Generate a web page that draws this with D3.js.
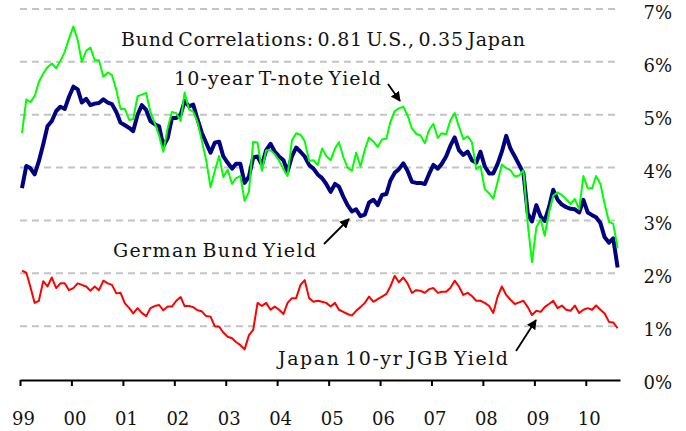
<!DOCTYPE html>
<html>
<head>
<meta charset="utf-8">
<script src="https://cdn.jsdelivr.net/npm/d3@7"></script>
<style>
	body { margin: 0; background: #fff; }
	svg text { font-family: 'DejaVu Serif', serif; fill: #111; }
</style>
</head>
<body>
<div class="chart"></div>
<script>
// month-end yields, Jan 1999 .. Aug 2010 (%)
const tnote = [
	4.65, 5.29, 5.24, 5.35, 5.62, 5.78, 5.90, 5.97, 5.88, 6.02, 6.19, 6.44,
	6.67, 6.41, 6.00, 6.21, 6.27, 6.03, 6.03, 5.72, 5.80, 5.75, 5.47, 5.11,
	5.11, 4.90, 4.92, 5.35, 5.38, 5.41, 5.05, 4.84, 4.60, 4.30, 4.75, 5.05,
	5.03, 4.88, 5.42, 5.10, 5.06, 4.86, 4.51, 4.14, 3.63, 3.93, 4.22, 3.82,
	3.96, 3.69, 3.80, 3.84, 3.37, 3.54, 4.49, 4.47, 3.94, 4.33, 4.33, 4.25,
	4.13, 3.97, 3.84, 4.51, 4.65, 4.62, 4.50, 4.13, 4.14, 4.05, 4.36, 4.22,
	4.14, 4.36, 4.48, 4.20, 4.00, 3.94, 4.28, 4.02, 4.34, 4.57, 4.49, 4.39,
	4.53, 4.55, 4.86, 5.07, 5.12, 5.15, 4.99, 4.74, 4.64, 4.61, 4.46, 4.71,
	4.83, 4.56, 4.65, 4.63, 4.89, 5.03, 4.78, 4.54, 4.59, 4.48, 3.97, 4.03,
	3.59, 3.51, 3.41, 3.73, 4.06, 3.99, 3.95, 3.83, 3.85, 3.95, 2.93, 2.21,
	2.87, 3.02, 2.71, 3.16, 3.47, 3.53, 3.48, 3.40, 3.31, 3.41, 3.21, 3.84,
	3.61, 3.61, 3.84, 3.69, 3.31, 2.97, 2.94, 2.47
];
const bund = [
	3.61, 4.03, 3.99, 3.87, 4.12, 4.44, 4.78, 4.88, 5.07, 5.15, 5.11, 5.34,
	5.53, 5.48, 5.23, 5.30, 5.18, 5.21, 5.22, 5.29, 5.23, 5.20, 5.05, 4.85,
	4.80, 4.75, 4.69, 5.00, 5.18, 5.09, 4.88, 4.82, 4.78, 4.40, 4.56, 4.94,
	4.94, 5.00, 5.26, 5.16, 5.19, 4.91, 4.66, 4.47, 4.28, 4.47, 4.49, 4.21,
	4.09, 3.98, 4.07, 4.07, 3.71, 3.83, 4.19, 4.21, 4.05, 4.33, 4.45, 4.30,
	4.21, 4.14, 3.92, 4.21, 4.38, 4.30, 4.21, 4.05, 3.98, 3.87, 3.80, 3.69,
	3.54, 3.69, 3.64, 3.45, 3.29, 3.17, 3.21, 3.08, 3.11, 3.34, 3.39, 3.29,
	3.48, 3.50, 3.75, 3.90, 3.97, 4.08, 3.94, 3.73, 3.71, 3.71, 3.69, 3.88,
	4.05, 3.98, 4.07, 4.21, 4.41, 4.57, 4.33, 4.24, 4.30, 4.14, 4.09, 4.30,
	4.02, 3.89, 3.89, 4.07, 4.30, 4.60, 4.36, 4.21, 4.05, 3.90, 3.13, 2.98,
	3.29, 3.07, 2.99, 3.25, 3.58, 3.39, 3.30, 3.25, 3.22, 3.21, 3.15, 3.39,
	3.15, 3.10, 3.06, 2.95, 2.68, 2.58, 2.66, 2.11
];
const jgb = [
	2.05, 2.01, 1.75, 1.44, 1.48, 1.85, 1.75, 1.92, 1.72, 1.81, 1.81, 1.68,
	1.72, 1.81, 1.78, 1.75, 1.67, 1.75, 1.68, 1.86, 1.81, 1.78, 1.62, 1.63,
	1.43, 1.34, 1.24, 1.34, 1.25, 1.19, 1.34, 1.38, 1.40, 1.30, 1.37, 1.37,
	1.48, 1.55, 1.38, 1.38, 1.36, 1.30, 1.28, 1.19, 1.18, 1.00, 0.99, 0.88,
	0.80, 0.77, 0.70, 0.64, 0.56, 0.83, 0.93, 1.44, 1.38, 1.44, 1.31, 1.37,
	1.31, 1.23, 1.44, 1.53, 1.53, 1.78, 1.87, 1.53, 1.46, 1.48, 1.46, 1.44,
	1.37, 1.44, 1.31, 1.27, 1.23, 1.20, 1.29, 1.36, 1.44, 1.56, 1.46, 1.51,
	1.56, 1.61, 1.75, 1.95, 1.83, 1.92, 1.81, 1.63, 1.68, 1.67, 1.63, 1.70,
	1.72, 1.63, 1.65, 1.65, 1.72, 1.86, 1.75, 1.59, 1.63, 1.57, 1.48, 1.48,
	1.44, 1.38, 1.25, 1.56, 1.75, 1.59, 1.50, 1.42, 1.45, 1.48, 1.36, 1.21,
	1.29, 1.27, 1.36, 1.42, 1.48, 1.34, 1.39, 1.31, 1.29, 1.39, 1.25, 1.31,
	1.34, 1.31, 1.39, 1.31, 1.24, 1.08, 1.07, 0.96
];
const yearLabels = ['99', '00', '01', '02', '03', '04', '05', '06', '07', '08', '09', '10'];
const yTicks = [0, 1, 2, 3, 4, 5, 6, 7];

const width = 686;
const height = 431;

const months = tnote.map((d, i) => new Date(1999, i, 15));

const x = d3.scaleTime()
	.domain([new Date(1999, 0, 1), new Date(2010, 8, 1)])
	.range([20, 620]);
const y = d3.scaleLinear().domain([0, 7]).range([379, 9]);

const svg = d3.select('.chart').append('svg').attr('width', width).attr('height', height);

// dashed grid
svg.append('g')
	.selectAll('line')
	.data(yTicks.filter(d => d > 0))
	.enter()
	.append('line')
	.attr('x1', 20)
	.attr('x2', 616)
	.attr('y1', d => y(d))
	.attr('y2', d => y(d))
	.attr('stroke', '#c3c3c3')
	.attr('stroke-width', 2)
	.attr('stroke-dasharray', '7,5');

// right hand labels
svg.append('g')
	.selectAll('text')
	.data(yTicks)
	.enter()
	.append('text')
	.attr('x', 672)
	.attr('y', d => y(d) + 10)
	.attr('text-anchor', 'end')
	.style('font-size', '18px')
	.text(d => d + '%');

// x axis
const years = yearLabels.map((d, i) => new Date(1999 + i, 0, 1));
const xAxis = d3.axisBottom(x)
	.tickValues(years)
	.tickSize(6)
	.tickSizeOuter(0)
	.tickFormat((d, i) => yearLabels[i]);

const gx = svg.append('g').attr('transform', 'translate(0,380)').call(xAxis);
gx.select('.domain').attr('stroke', '#000').attr('stroke-width', 2);
gx.selectAll('.tick line').attr('stroke', '#000').attr('stroke-width', 2);
gx.selectAll('.tick text')
	.attr('y', 45)
	.attr('dy', 0)
	.attr('dx', 3)
	.style('font-size', '18px')
	.style('font-family', "'DejaVu Serif', serif")
	.attr('fill', '#111');

const line = d3.line()
	.x((d, i) => x(months[i]))
	.y(d => y(d));

const series = [
	{ name: 'bund', values: bund, color: '#000080', width: 4 },
	{ name: 'tnote', values: tnote, color: '#00ff00', width: 2 },
	{ name: 'jgb', values: jgb, color: '#ff0000', width: 2 },
];

svg.append('g')
	.selectAll('path')
	.data(series)
	.enter()
	.append('path')
	.attr('d', d => line(d.values))
	.attr('fill', 'none')
	.attr('stroke', d => d.color)
	.attr('stroke-width', d => d.width)
	.attr('stroke-linejoin', 'round');

// annotations
svg.append('defs')
	.append('marker')
	.attr('id', 'head')
	.attr('viewBox', '0 0 10 10')
	.attr('refX', 9)
	.attr('refY', 5)
	.attr('markerWidth', 5.5)
	.attr('markerHeight', 5.5)
	.attr('orient', 'auto')
	.append('path')
	.attr('d', 'M0,0 L10,5 L0,10 Z')
	.attr('fill', '#000');

// w = width of the label in the picture
const notes = [
	{ text: 'Bund Correlations: 0.81 U.S., 0.35 Japan', x: 121, y: 46, w: 404 },
	{ text: '10-year T-note Yield', x: 174, y: 85, w: 207 },
	{ text: 'German Bund Yield', x: 113, y: 257, w: 203 },
	{ text: 'Japan 10-yr JGB Yield', x: 278, y: 365, w: 230 },
];

svg.append('g')
	.selectAll('text')
	.data(notes)
	.enter()
	.append('text')
	.attr('x', d => d.x)
	.attr('y', d => d.y)
	.attr('textLength', d => d.w)
	.attr('lengthAdjust', 'spacing')
	.style('font-size', '19px')
	.style('word-spacing', '-3px')
	.text(d => d.text);

const arrows = [
	[388, 84, 400, 101],
	[324, 244, 349, 219],
	[516, 351, 536, 320],
];

svg.append('g')
	.selectAll('line')
	.data(arrows)
	.enter()
	.append('line')
	.attr('x1', d => d[0])
	.attr('y1', d => d[1])
	.attr('x2', d => d[2])
	.attr('y2', d => d[3])
	.attr('stroke', '#000')
	.attr('stroke-width', 1.8)
	.attr('marker-end', 'url(#head)');
</script>
</body>
</html>
